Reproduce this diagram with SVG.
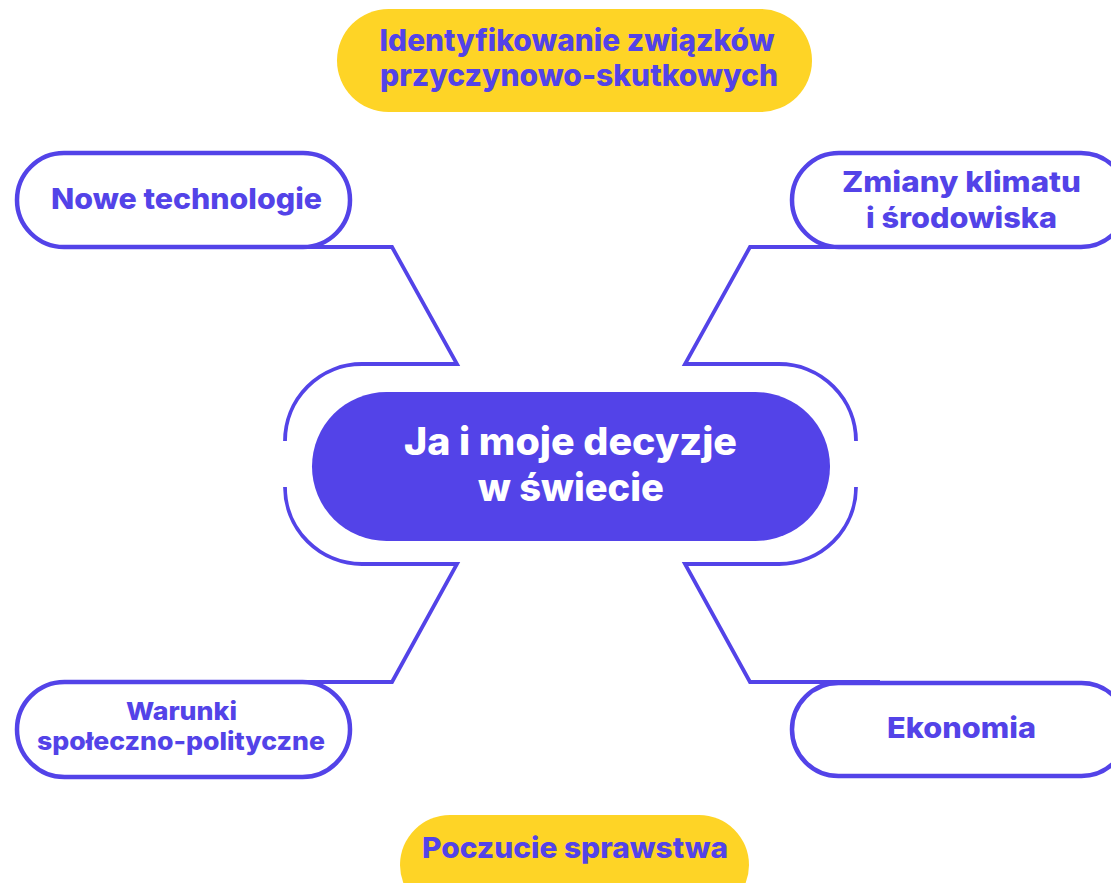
<svg xmlns="http://www.w3.org/2000/svg" width="1111" height="883" viewBox="0 0 1111 883">
<style>
.pill{fill:#ffffff;stroke:#5343E8;stroke-width:4.5}
.yellow{fill:#FED426}
.center{fill:#5343E8}
.conn{fill:none;stroke:#5343E8;stroke-width:3.8;stroke-linejoin:miter}
.t{font-family:Inter,"Open Sans","Liberation Sans",sans-serif;font-weight:800;fill:#5343E8;text-anchor:middle}
.tw{font-family:Inter,"Open Sans","Liberation Sans",sans-serif;font-weight:800;fill:#ffffff;text-anchor:middle}
</style>
<rect width="1111" height="883" fill="#ffffff"/>
<g id="connectors">
<path class="conn" d="M 300 247 H 392 L 457 364 H 362 A 77 77 0 0 0 285 441"/>
<path class="conn" d="M 880 247 H 750 L 685 364 H 779 A 77 77 0 0 1 856 441"/>
<path class="conn" d="M 300 682 H 392 L 457 564 H 362 A 77 77 0 0 1 285 487"/>
<path class="conn" d="M 880 682 H 750 L 685 564 H 779 A 77 77 0 0 0 856 487"/>
</g>
<g id="node-top">
<rect class="yellow" x="337" y="9" width="475" height="103" rx="51.5"/>
<text class="t" x="577" y="51" font-size="30" textLength="395" lengthAdjust="spacingAndGlyphs">Identyfikowanie związków</text>
<text class="t" x="579" y="86" font-size="30" textLength="398" lengthAdjust="spacingAndGlyphs">przyczynowo-skutkowych</text>
</g>
<g id="node-nowe">
<rect class="pill" x="17" y="153" width="333" height="94" rx="47"/>
<text class="t" x="186.5" y="209" font-size="29" textLength="271" lengthAdjust="spacingAndGlyphs">Nowe technologie</text>
</g>
<g id="node-zmiany">
<rect class="pill" x="792" y="153" width="336" height="94" rx="47"/>
<text class="t" x="961.5" y="192" font-size="28" textLength="239" lengthAdjust="spacingAndGlyphs">Zmiany klimatu</text>
<text class="t" x="961.5" y="228" font-size="28" textLength="191" lengthAdjust="spacingAndGlyphs">i środowiska</text>
</g>
<g id="node-center">
<rect class="center" x="312" y="392" width="518" height="149" rx="74.5"/>
<text class="tw" x="570.5" y="455" font-size="38" textLength="333" lengthAdjust="spacingAndGlyphs">Ja i moje decyzje</text>
<text class="tw" x="571" y="501" font-size="38" textLength="186" lengthAdjust="spacingAndGlyphs">w świecie</text>
</g>
<g id="node-warunki">
<rect class="pill" x="17" y="682" width="333" height="95" rx="47.5"/>
<text class="t" x="181.5" y="720" font-size="25" textLength="111" lengthAdjust="spacingAndGlyphs">Warunki</text>
<text class="t" x="181" y="750" font-size="25" textLength="288" lengthAdjust="spacingAndGlyphs">społeczno-polityczne</text>
</g>
<g id="node-ekonomia">
<rect class="pill" x="792" y="683" width="336" height="93" rx="46.5"/>
<text class="t" x="961.5" y="738" font-size="29" textLength="149" lengthAdjust="spacingAndGlyphs">Ekonomia</text>
</g>
<g id="node-bottom">
<rect class="yellow" x="400" y="815" width="349" height="100" rx="50"/>
<text class="t" x="575" y="858" font-size="29" textLength="306" lengthAdjust="spacingAndGlyphs">Poczucie sprawstwa</text>
</g>
</svg>
